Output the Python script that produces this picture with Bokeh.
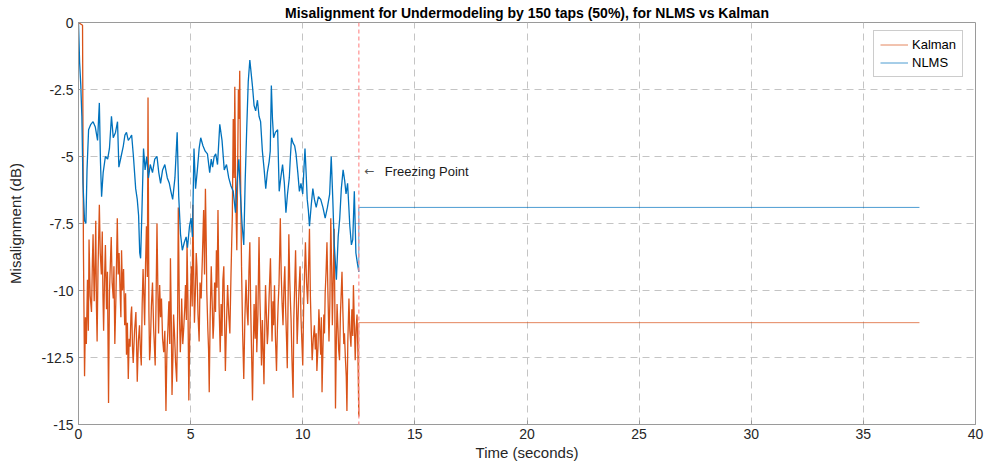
from bokeh.plotting import figure
from bokeh.models import FixedTicker, Label, Span, Legend, LegendItem, Range1d
from bokeh.embed import file_html
from bokeh.resources import INLINE

# NLMS misalignment trace (time in s, misalignment in dB) up to the freezing point
nlms_t = [0.0, 0.05, 0.1, 0.15, 0.2, 0.27, 0.33, 0.38, 0.45, 0.55, 0.65, 0.75, 0.85, 0.93, 0.98,
          1.03, 1.1, 1.2, 1.3, 1.38, 1.47, 1.55, 1.65, 1.74, 1.8, 1.9, 2.0, 2.07, 2.14, 2.22, 2.3,
          2.37, 2.45, 2.55, 2.62, 2.68, 2.73, 2.77, 2.83, 2.9, 2.97, 3.04, 3.12, 3.2, 3.3, 3.4, 3.5,
          3.58, 3.66, 3.75, 3.85, 3.96, 4.05, 4.12, 4.2, 4.3, 4.4, 4.47, 4.55, 4.63, 4.72, 4.8, 4.86,
          4.95, 5.02, 5.08, 5.15, 5.22, 5.3, 5.38, 5.45, 5.55, 5.65, 5.75, 5.85, 5.92, 5.98, 6.05,
          6.12, 6.2, 6.3, 6.4, 6.5, 6.6, 6.7, 6.8, 6.9, 7.0, 7.07, 7.15, 7.22, 7.3, 7.37, 7.43, 7.5,
          7.57, 7.64, 7.7, 7.76, 7.83, 7.9, 7.98, 8.05, 8.12, 8.2, 8.28, 8.35, 8.42, 8.5, 8.55, 8.6,
          8.65, 8.7, 8.78, 8.88, 8.95, 9.02, 9.1, 9.18, 9.25, 9.32, 9.4, 9.45, 9.5, 9.57, 9.64, 9.7,
          9.78, 9.85, 9.92, 10.0, 10.05, 10.1, 10.15, 10.2, 10.25, 10.3, 10.38, 10.45, 10.52, 10.6,
          10.7, 10.8, 10.9, 11.0, 11.1, 11.2, 11.27, 11.34, 11.4, 11.5, 11.58, 11.65, 11.72, 11.8,
          11.87, 11.93, 12.0, 12.05, 12.1, 12.17, 12.23, 12.3, 12.37, 12.44, 12.5]
nlms_db = [0.0, -1.5, -2.3, -3.5, -6.0, -7.4, -7.5, -5.5, -4.0, -3.8, -3.7, -3.9, -4.4, -3.0, -5.2,
           -6.5, -5.6, -5.0, -5.1, -4.7, -3.5, -4.3, -4.1, -3.7, -5.4, -5.0, -4.6, -4.2, -4.1, -4.4, -4.3,
           -4.2, -5.0, -6.2, -6.6, -7.2, -8.6, -8.8, -7.0, -4.7, -5.5, -5.0, -5.8, -5.3, -5.6, -5.1, -5.0,
           -5.6, -6.0, -5.5, -5.3, -5.8, -6.0, -6.3, -6.6, -5.8, -4.1, -6.5, -7.9, -8.5, -8.2, -8.0, -8.4,
           -7.6, -7.3, -8.0, -4.7, -6.2, -5.5, -4.7, -4.3, -4.6, -4.8, -4.9, -5.6, -5.1, -5.4, -5.0,
           -4.9, -5.3, -3.8, -4.4, -5.5, -5.3, -5.8, -6.1, -6.3, -7.1, -6.0, -5.1, -6.4, -7.6, -8.3, -6.0, -4.0,
           -2.2, -1.4, -1.9, -2.4, -3.1, -3.3, -2.9, -3.5, -3.7, -4.8, -5.5, -6.2, -5.6, -5.2, -4.8, -2.35,
           -3.6, -4.3, -4.1, -4.0, -6.3, -5.8, -5.3, -6.0, -7.1, -6.4, -5.8, -5.0, -4.3, -4.5, -4.6, -4.9,
           -5.6, -6.3, -6.0, -6.4, -5.5, -4.7, -5.6, -6.6, -7.0, -7.6, -6.8, -6.2, -6.6, -6.9,
           -6.5, -6.6, -6.9, -7.3, -6.9, -6.4, -5.0, -6.6, -8.2, -9.6, -8.0, -7.3, -6.2, -5.5,
           -5.9, -6.4, -6.0, -6.8, -7.6, -8.3, -8.1, -6.3, -8.6, -9.0, -9.3]

# Kalman misalignment trace up to the freezing point
kalman_t = [0.0, 0.18, 0.22, 0.27, 0.31, 0.35, 0.4, 0.44, 0.47, 0.52, 0.58, 0.62, 0.65, 0.7, 0.74,
            0.77, 0.8, 0.83, 0.87, 0.93, 0.97, 1.02, 1.06, 1.09, 1.12, 1.16, 1.2, 1.25, 1.29, 1.34,
            1.38, 1.42, 1.46, 1.5, 1.55, 1.58, 1.62, 1.67, 1.73, 1.77, 1.81, 1.85, 1.89, 1.92, 1.96,
            2.01, 2.06, 2.1, 2.14, 2.18, 2.22, 2.26, 2.3, 2.34, 2.37, 2.41, 2.44, 2.5, 2.56, 2.59,
            2.62, 2.67, 2.72, 2.76, 2.8, 2.84, 2.88, 2.92, 2.95, 2.99, 3.03, 3.07, 3.1, 3.14, 3.17,
            3.2, 3.25, 3.3, 3.35, 3.42, 3.46, 3.5, 3.54, 3.57, 3.62, 3.66, 3.7, 3.75, 3.8, 3.85, 3.9,
            3.94, 3.98, 4.03, 4.07, 4.1, 4.14, 4.17, 4.21, 4.24, 4.28, 4.33, 4.38, 4.42, 4.45, 4.5,
            4.54, 4.58, 4.6, 4.65, 4.7, 4.74, 4.77, 4.81, 4.84, 4.88, 4.92, 4.96, 5.0, 5.03, 5.07,
            5.1, 5.14, 5.17, 5.21, 5.25, 5.28, 5.33, 5.38, 5.42, 5.47, 5.52, 5.58, 5.62, 5.66, 5.7,
            5.72, 5.77, 5.8, 5.83, 5.87, 5.92, 5.96, 6.0, 6.03, 6.07, 6.11, 6.15, 6.18, 6.22, 6.27,
            6.32, 6.36, 6.4, 6.44, 6.48, 6.52, 6.55, 6.6, 6.65, 6.7, 6.75, 6.8, 6.86, 6.9, 6.94, 6.97,
            7.01, 7.06, 7.1, 7.13, 7.16, 7.19, 7.23, 7.27, 7.32, 7.37, 7.42, 7.47, 7.52, 7.56, 7.6,
            7.64, 7.68, 7.72, 7.76, 7.8, 7.83, 7.88, 7.92, 7.95, 8.0, 8.05, 8.09, 8.13, 8.16, 8.2,
            8.24, 8.27, 8.31, 8.34, 8.38, 8.42, 8.45, 8.5, 8.53, 8.56, 8.6, 8.63, 8.67, 8.7, 8.74,
            8.78, 8.83, 8.87, 8.9, 8.94, 8.97, 9.0, 9.04, 9.08, 9.12, 9.16, 9.2, 9.24, 9.28, 9.31,
            9.35, 9.38, 9.42, 9.45, 9.48, 9.52, 9.57, 9.6, 9.64, 9.68, 9.72, 9.75, 9.78, 9.83, 9.88,
            9.92, 9.96, 10.0, 10.04, 10.08, 10.12, 10.17, 10.22, 10.26, 10.3, 10.34, 10.38, 10.42,
            10.47, 10.52, 10.56, 10.6, 10.63, 10.68, 10.72, 10.75, 10.8, 10.83, 10.86, 10.9, 10.94,
            10.97, 11.0, 11.04, 11.08, 11.12, 11.17, 11.21, 11.25, 11.29, 11.32, 11.36, 11.4, 11.43,
            11.46, 11.5, 11.53, 11.57, 11.6, 11.64, 11.68, 11.72, 11.75, 11.79, 11.83, 11.86, 11.9,
            11.94, 11.97, 12.01, 12.06, 12.1, 12.15, 12.19, 12.23, 12.26, 12.3, 12.34, 12.38, 12.42,
            12.46, 12.5]
kalman_db = [0.0, -0.1, -8.5, -13.2, -11.0, -12.0, -9.6, -11.5, -8.1, -10.2, -10.8, -8.9, -7.9, -10.4, -9.0,
             -7.4, -10.6, -11.9, -9.2, -6.8, -8.6, -9.4, -7.8, -10.2, -11.5, -9.6, -8.3, -10.7, -9.3, -14.2,
             -10.1, -9.0, -8.0, -9.7, -10.3, -9.1, -12.0, -10.2, -7.3, -9.4, -8.6, -9.9, -11.0, -8.5, -10.0,
             -9.2, -11.3, -10.1, -12.4, -11.2, -13.3, -11.8, -12.1, -10.9, -10.6, -12.2, -12.7, -11.5, -10.8, -12.0,
             -13.4, -11.9, -11.3, -12.2, -12.8, -10.5, -9.2, -10.4, -11.3, -9.0, -7.6, -9.5, -2.8, -10.8, -12.6,
             -12.2, -10.6, -9.7, -11.4, -12.8, -10.3, -7.5, -10.0, -11.6, -9.8, -11.0, -10.3, -11.8, -12.3, -11.5, -14.5,
             -12.4, -11.6, -10.4, -12.0, -8.8, -11.2, -13.9, -12.5, -10.9, -11.6, -12.7, -13.4, -11.0, -6.9, -10.8,
             -12.3, -11.4, -10.3, -12.0, -11.3, -10.6, -9.8, -11.1, -8.2, -10.4, -14.1, -11.7, -10.0, -9.1, -10.6,
             -6.8, -9.5, -11.2, -10.1, -8.6, -9.1, -10.9, -11.9, -9.7, -10.3, -8.9, -7.0, -9.4, -6.2, -8.4,
             -10.0, -11.5, -12.2, -13.8, -11.0, -9.1, -10.4, -11.8, -11.3, -9.7, -10.8, -8.5, -9.9, -7.0, -10.6,
             -12.3, -10.5, -11.7, -9.6, -9.1, -11.4, -13.0, -11.2, -9.8, -10.9, -11.6, -9.4, -7.2, -3.6, -5.8, -2.4,
             -6.3, -8.5, -5.2, -2.5, -3.6, -1.8, -5.9, -9.1, -11.6, -13.3, -11.0, -9.6, -10.8, -11.3, -9.3,
             -8.2, -10.7, -12.4, -14.1, -11.9, -10.5, -11.8, -9.8, -12.3, -10.9, -8.0, -10.3, -11.6, -12.8, -11.1,
             -12.4, -13.5, -11.2, -9.8, -10.9, -12.0, -11.6, -10.2, -9.5, -8.8, -10.6, -11.9, -10.4, -11.3, -9.8,
             -11.7, -13.0, -11.4, -10.6, -9.8, -8.6, -7.3, -9.4, -10.5, -11.3, -9.9, -9.1, -10.8, -11.9, -12.9,
             -10.1, -7.9, -9.6, -10.4, -11.1, -12.6, -14.0, -11.1, -9.9, -8.5, -10.4, -12.0, -11.3, -10.0, -9.1,
             -11.0, -11.9, -12.8, -10.6, -9.4, -8.2, -9.7, -10.5, -9.1, -7.7, -10.2, -11.5, -12.6,
             -11.8, -11.3, -12.2, -11.6, -13.0, -12.1, -10.7, -11.3, -12.4, -11.0, -13.8, -12.2, -10.9,
             -11.6, -10.1, -9.3, -8.2, -10.0, -11.9, -10.4, -7.3, -9.2, -11.3, -9.6, -7.7, -10.5,
             -14.4, -11.8, -10.5, -11.4, -12.2, -12.6, -10.9, -10.0, -9.3, -10.8, -12.0, -11.6, -12.5,
             -13.2, -14.5, -11.9, -10.3, -11.5, -12.1, -10.7, -11.7, -9.8, -11.2, -12.6, -11.4, -10.9,
             -12.3, -14.7]

# Both filters are frozen from this time on and hold their last misalignment
freeze_t = 12.5
end_t = 37.5
nlms_frozen = -6.9
kalman_frozen = -11.2

x_ticks = [0, 5, 10, 15, 20, 25, 30, 35, 40]
y_ticks = [-15, -12.5, -10, -7.5, -5, -2.5, 0]
y_tick_labels = ["-15", "-12.5", "-10", "-7.5", "-5", "-2.5", "0"]

KALMAN_COLOR = "#D95319"
NLMS_COLOR = "#0072BD"
FONT = "Liberation Sans"

p = figure(width=985, height=467, x_range=Range1d(0, 40), y_range=Range1d(-15, 0),
           output_backend="svg", toolbar_location=None,
           min_border_left=78, min_border_right=10, min_border_top=22, min_border_bottom=43)

p.title.text = "Misalignment for Undermodeling by 150 taps (50%), for NLMS vs Kalman"
p.title.align = "center"
p.title.text_font = FONT
p.title.text_font_size = "14px"
p.title.text_font_style = "bold"
p.title.text_color = "#000000"
p.title.standoff = 4
p.title.offset = 0

# adaptive part of each trace
p.line(kalman_t, kalman_db, line_color=KALMAN_COLOR, line_width=1.3)
p.line(nlms_t, nlms_db, line_color=NLMS_COLOR, line_width=1.3)

# frozen part: jump to the held value, then flat until the end of the run
r_k = p.line([freeze_t, freeze_t, end_t], [kalman_db[-1], kalman_frozen, kalman_frozen],
             line_color=KALMAN_COLOR, line_width=1, line_alpha=0.7)
r_n = p.line([freeze_t, freeze_t, end_t], [nlms_db[-1], nlms_frozen, nlms_frozen],
             line_color=NLMS_COLOR, line_width=1, line_alpha=0.7)

p.add_layout(Span(location=freeze_t, dimension="height", line_color="#ff9090",
                  line_dash="4 3", line_width=1.5, line_alpha=0.8))

# annotation marking where adaptation is frozen
p.add_layout(Label(x=12.75, y=-5.55, text="\u2190", text_font="DejaVu Sans",
                   text_font_size="12px", text_baseline="middle", text_color="#555555"))
p.add_layout(Label(x=13.66, y=-5.55, text="Freezing Point", text_font=FONT,
                   text_font_size="13px", text_baseline="middle", text_color="#1a1a1a"))

# axes
for ax in (p.xaxis[0], p.yaxis[0]):
    ax.axis_line_color = "#9a9a9a"
    ax.major_tick_line_color = "#9a9a9a"
    ax.major_tick_in = 4
    ax.major_tick_out = 0
    ax.minor_tick_line_color = None
    ax.major_label_text_font = FONT
    ax.major_label_text_font_size = "14px"
    ax.major_label_text_color = "#262626"
    ax.axis_label_text_font = FONT
    ax.axis_label_text_font_style = "normal"
    ax.axis_label_text_color = "#262626"

p.xaxis.ticker = FixedTicker(ticks=x_ticks)
p.yaxis.ticker = FixedTicker(ticks=y_ticks)
p.yaxis.major_label_overrides = {v: s for v, s in zip(y_ticks, y_tick_labels)}
p.xaxis.axis_label = "Time (seconds)"
p.yaxis.axis_label = "Misalignment (dB)"
p.xaxis.axis_label_text_font_size = "15px"
p.yaxis.axis_label_text_font_size = "15px"
p.xaxis.major_label_standoff = 4
p.yaxis.major_label_standoff = 5
p.xaxis.axis_label_standoff = 2
p.yaxis.axis_label_standoff = 15

p.xgrid.ticker = FixedTicker(ticks=x_ticks[1:-1])
p.ygrid.ticker = FixedTicker(ticks=y_ticks[1:-1])
for g in (p.xgrid[0], p.ygrid[0]):
    g.grid_line_color = "#c4c4c4"
    g.grid_line_dash = "7 5"
    g.grid_line_width = 1

p.outline_line_color = "#9a9a9a"
p.outline_line_width = 1

legend = Legend(items=[LegendItem(label="Kalman", renderers=[r_k]),
                       LegendItem(label="NLMS", renderers=[r_n])],
                location=(795, 347), margin=0, padding=6, spacing=3,
                glyph_width=28, glyph_height=15, label_standoff=4,
                label_text_font=FONT, label_text_font_size="13px", label_text_color="#000000",
                border_line_color="#9a9a9a", background_fill_color="white")
p.add_layout(legend)

open("out.html", "w").write(file_html(p, INLINE))
